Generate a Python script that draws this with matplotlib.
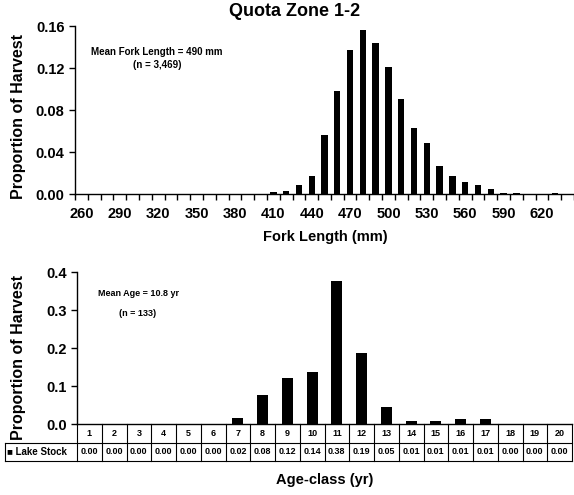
import numpy as np
import matplotlib
matplotlib.use('Agg')
import matplotlib.pyplot as plt
import matplotlib.transforms as mtransforms

plt.rcParams['font.family'] = ['Liberation Sans', 'DejaVu Sans']
plt.rcParams['font.weight'] = 'bold'

# fork length classes (mm) and proportion of harvest
lengths = list(range(260, 650, 10))
length_prop = [0, 0, 0, 0, 0, 0, 0, 0, 0, 0, 0, 0, 0, 0, 0,
               0.0016, 0.0025, 0.0089, 0.0171, 0.0564, 0.0979, 0.1375, 0.1559,
               0.1438, 0.121, 0.0906, 0.063, 0.0488, 0.0269, 0.0171, 0.0114,
               0.0089, 0.0044, 0.001, 0.001, 0, 0, 0.001, 0]

# age classes and proportion of harvest
ages = list(range(1, 21))
age_prop = [0, 0, 0, 0, 0, 0, 0.017, 0.076, 0.120, 0.137, 0.377, 0.188,
            0.045, 0.0085, 0.0085, 0.014, 0.014, 0, 0, 0]
age_table = ['0.00', '0.00', '0.00', '0.00', '0.00', '0.00', '0.02', '0.08',
             '0.12', '0.14', '0.38', '0.19', '0.05', '0.01', '0.01', '0.01',
             '0.01', '0.00', '0.00', '0.00']

W, H = 574, 495
fig = plt.figure(figsize=(W / 100, H / 100), dpi=100)

def px_axes(x0, y0, x1, y1):
    return fig.add_axes([x0 / W, 1 - y1 / H, (x1 - x0) / W, (y1 - y0) / H])

TICK = 10.5
LAB = 10.5

# ---- top: fork length ----
ax1 = px_axes(75, 26, 574, 194)
idx = np.arange(len(lengths))
ax1.bar(idx, length_prop, width=0.5, color='black')
ax1.set_xlim(-0.5, (574 - 75) / 12.9 - 0.5)
ax1.set_ylim(0, 0.16)
ax1.set_yticks([0, 0.04, 0.08, 0.12, 0.16])
ax1.set_yticklabels(['0.00', '0.04', '0.08', '0.12', '0.16'])
ax1.set_xticks(idx[::3])
ax1.set_xticklabels([str(v) for v in lengths[::3]])
ax1.set_xticks(np.arange(len(lengths) + 1) - 0.5, minor=True)
ax1.tick_params(axis='x', which='major', length=0, pad=9, labelsize=TICK)
ax1.tick_params(axis='x', which='minor', length=4, width=1, direction='out')
ax1.tick_params(axis='y', length=4, width=1, direction='out', labelsize=TICK)
for s in ['top', 'right']:
    ax1.spines[s].set_visible(False)
ax1.spines['left'].set_linewidth(1)
ax1.spines['bottom'].set_linewidth(1)
ax1.set_ylabel('Proportion of Harvest', fontsize=11.5, fontweight='bold')
ax1.yaxis.set_label_coords(-(75 - 26) / 499, (194 - 116) / 168)
fig.text(325 / W, 1 - 237 / H, 'Fork Length (mm)', ha='center', va='center',
         fontsize=LAB, fontweight='bold')
fig.text(295 / W, 1 - 12 / H, 'Quota Zone 1-2', ha='center', va='center',
         fontsize=13, fontweight='bold')
fig.text(157 / W, 1 - 52 / H, 'Mean Fork Length = 490 mm', ha='center', va='center',
         fontsize=7, fontweight='bold')
fig.text(157 / W, 1 - 65 / H, '(n = 3,469)', ha='center', va='center',
         fontsize=7, fontweight='bold')

# ---- bottom: age ----
ax2 = px_axes(77, 272, 572, 424)
ax2.bar(ages, age_prop, width=0.45, color='black')
ax2.set_xlim(0.5, 20.5)
ax2.set_ylim(0, 0.4)
ax2.set_yticks([0, 0.1, 0.2, 0.3, 0.4])
ax2.set_yticklabels(['0.0', '0.1', '0.2', '0.3', '0.4'])
ax2.set_xticks([])
ax2.tick_params(axis='y', length=4, width=1, direction='out', labelsize=TICK)
for s in ['top', 'right']:
    ax2.spines[s].set_visible(False)
ax2.spines['left'].set_linewidth(1)
ax2.spines['bottom'].set_linewidth(1)
ax2.set_ylabel('Proportion of Harvest', fontsize=11.5, fontweight='bold')
ax2.yaxis.set_label_coords(-(77 - 26) / 495, (424 - 358) / 152)
fig.text(325 / W, 1 - 480 / H, 'Age-class (yr)', ha='center', va='center',
         fontsize=LAB, fontweight='bold')
fig.text(138 / W, 1 - 293 / H, 'Mean Age = 10.8 yr', ha='center', va='center',
         fontsize=6.5, fontweight='bold')
fig.text(138 / W, 1 - 313 / H, '(n = 133)', ha='center', va='center',
         fontsize=6.5, fontweight='bold')

# data table under the bottom chart
trans = mtransforms.blended_transform_factory(ax2.transData, fig.transFigure)
y_top, y_mid, y_bot = 1 - 424 / H, 1 - 443 / H, 1 - 461 / H
x_leg = 0.5 - (77 - 5) / 24.75
lw = 0.8
for b in np.arange(0.5, 21.5, 1):
    ax2.plot([b, b], [y_top, y_bot], color='black', lw=lw, transform=trans, clip_on=False)
ax2.plot([x_leg, 20.5], [y_mid, y_mid], color='black', lw=lw, transform=trans, clip_on=False)
ax2.plot([x_leg, 20.5], [y_bot, y_bot], color='black', lw=lw, transform=trans, clip_on=False)
ax2.plot([x_leg, x_leg], [y_mid, y_bot], color='black', lw=lw, transform=trans, clip_on=False)
for a, lab in zip(ages, age_table):
    ax2.text(a, (y_top + y_mid) / 2, str(a), transform=trans, ha='center', va='center',
             fontsize=6.5, fontweight='bold')
    ax2.text(a, (y_mid + y_bot) / 2, lab, transform=trans, ha='center', va='center',
             fontsize=6.5, fontweight='bold')
ax2.text(x_leg + 0.08, (y_mid + y_bot) / 2, '\u25a0 Lake Stock', transform=trans,
         ha='left', va='center', fontsize=7, fontweight='bold')

fig.savefig('out.png', dpi=100)
